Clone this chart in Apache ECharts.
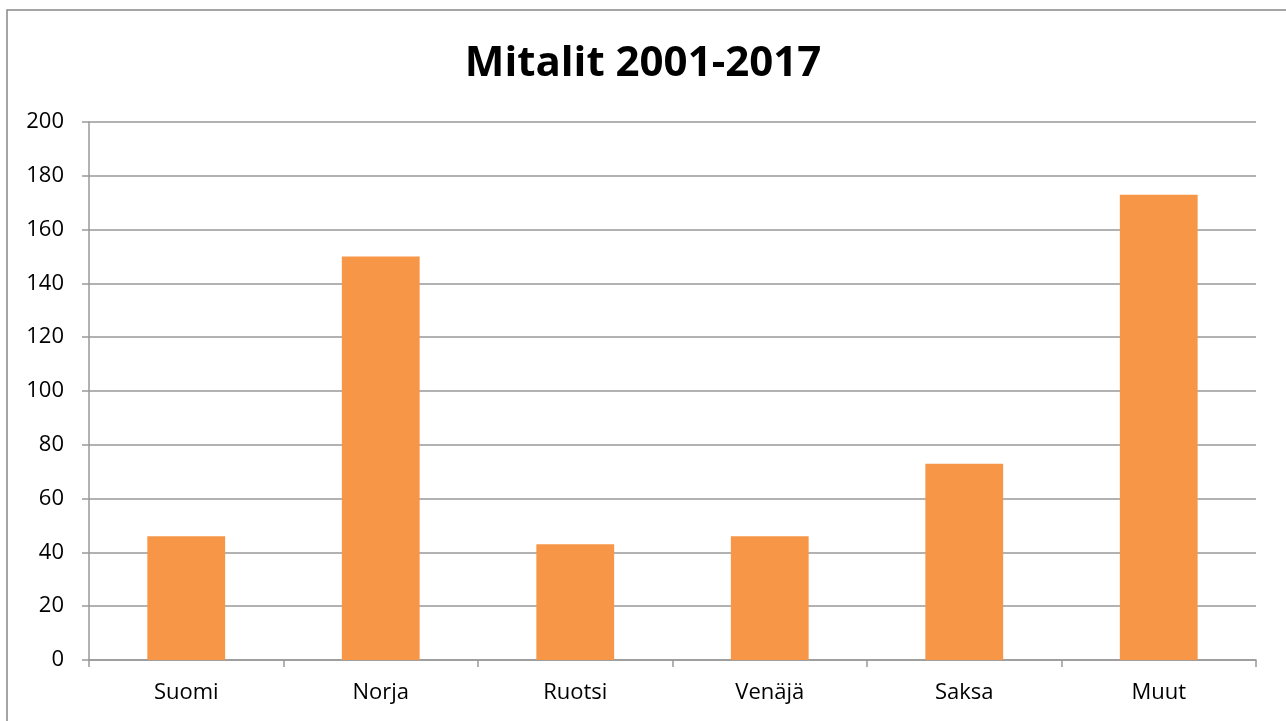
<!DOCTYPE html>
<html>
<head>
<meta charset="utf-8">
<script src="https://cdn.jsdelivr.net/npm/echarts@6/dist/echarts.min.js"></script>
<style>
  html, body { margin: 0; padding: 0; background: #fff; }
  #chart { width: 1286px; height: 721px; }
</style>
</head>
<body>
<div id="chart"></div>
<script>
const categories = ["Suomi", "Norja", "Ruotsi", "Venäjä", "Saksa", "Muut"];
const medals = [46, 150, 43, 46, 73, 173];

const chart = echarts.init(document.getElementById("chart"));
const fontFamily = "Open Sans, Liberation Sans, sans-serif";
chart.setOption({
  animation: false,
  title: {
    text: "Mitalit 2001-2017",
    left: "center",
    top: 38,
    textStyle: { fontSize: 42, fontWeight: "bold", color: "#000", fontFamily: fontFamily }
  },
  graphic: [{
    type: "rect",
    shape: { x: 7, y: 10, width: 1290, height: 720 },
    style: { fill: "none", stroke: "#888", lineWidth: 1.5 }
  }],
  grid: { left: 89, right: 30, top: 122, bottom: 61 },
  xAxis: {
    type: "category",
    data: categories,
    axisLine: { lineStyle: { color: "#999", width: 1.5 } },
    axisTick: { show: true, length: 7, lineStyle: { color: "#999", width: 1.5 } },
    axisLabel: { margin: 22, color: "#000", fontSize: 22, fontFamily: fontFamily }
  },
  yAxis: {
    type: "value",
    min: 0,
    max: 200,
    interval: 20,
    axisLine: { show: true, lineStyle: { color: "#999", width: 1.5 } },
    axisTick: { show: true, length: 7, lineStyle: { color: "#999", width: 1.5 } },
    splitLine: { lineStyle: { color: "#999", width: 1.5 } },
    axisLabel: { margin: 25, color: "#000", fontSize: 22, fontFamily: fontFamily }
  },
  series: [{
    type: "bar",
    data: medals,
    barWidth: "40%",
    itemStyle: { color: "#F79646" }
  }]
});
</script>
</body>
</html>
